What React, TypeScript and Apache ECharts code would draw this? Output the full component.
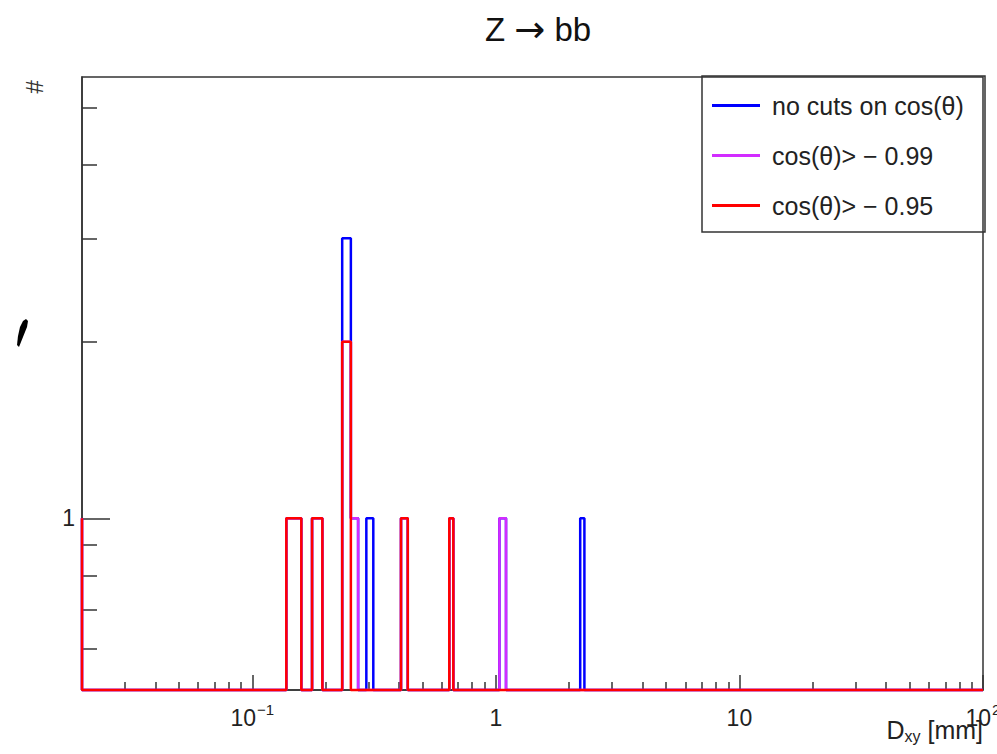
import React, { useEffect, useRef } from 'react';
import * as echarts from 'echarts';

const FONT = '"Liberation Sans", Arial, Helvetica, sans-serif';

const X_MIN = 0.02;
const X_MAX = 100;
const Y_MIN = 0.51;
const Y_MAX = 5.65;

const SERIES_NAMES = ['no cuts on cos(θ)', 'cos(θ)> − 0.99', 'cos(θ)> − 0.95'];
const SERIES_COLORS = ['#0000ff', '#d22cff', '#ff0000'];

// bin edges (mm)
const BIN_LO = [0.138, 0.176, 0.234, 0.254, 0.294, 0.408, 0.644, 1.034, 2.22];
const BIN_HI = [0.159, 0.194, 0.254, 0.272, 0.314, 0.435, 0.669, 1.101, 2.31];
// counts per bin
const COUNTS_NOCUT = [1, 1, 3, 1, 1, 1, 1, 1, 1];
const COUNTS_099 = [1, 1, 2, 1, 0, 1, 1, 1, 0];
const COUNTS_095 = [1, 1, 2, 0, 0, 1, 1, 0, 0];
// content below the x range (drawn clipped at left frame edge)
const UNDERFLOW = [1, 1, 1];

const X_MAJOR = [0.1, 1, 10, 100];
const X_MINOR = [0.03, 0.04, 0.05, 0.06, 0.07, 0.08, 0.09, 0.2, 0.3, 0.4, 0.5, 0.6, 0.7, 0.8, 0.9, 2, 3, 4, 5, 6, 7, 8, 9, 20, 30, 40, 50, 60, 70, 80, 90];
const Y_MAJOR = [1];
const Y_MINOR = [0.6, 0.7, 0.8, 0.9, 2, 3, 4, 5];

function outline(counts: number[], underflow: number): number[][] {
  const segs: number[][] = [];
  let cur = X_MIN;
  if (underflow > 0) segs.push([X_MIN, X_MIN, underflow]);
  counts.forEach((c, i) => {
    if (c <= 0) return;
    const lo = BIN_LO[i];
    const hi = BIN_HI[i];
    if (lo > cur) segs.push([cur, lo, Y_MIN]);
    segs.push([lo, hi, c]);
    cur = hi;
  });
  segs.push([cur, X_MAX, Y_MIN]);
  const pts: number[][] = [];
  segs.forEach(([a, b, v]) => {
    pts.push([a, v]);
    pts.push([b, v]);
  });
  return pts;
}

function xLabel(v: number): string {
  const e = Math.round(Math.log10(v));
  if (e === 0) return '{b|1}';
  if (e === 1) return '{b|10}';
  return '{b|10}{s|' + (e < 0 ? '−' + -e : String(e)) + '}';
}

export default function App() {
  const ref = useRef<HTMLDivElement>(null);
  useEffect(() => {
    if (!ref.current) return;
    const chart = echarts.init(ref.current, null, { renderer: 'svg' });
    const allCounts = [COUNTS_NOCUT, COUNTS_099, COUNTS_095];
    const axisColor = '#333';
    chart.setOption({
      animation: false,
      backgroundColor: '#fff',
      title: {
        text: '{t|Z }{a|→}{t| bb}',
        left: 533,
        top: 6,
        textAlign: 'center',
        textStyle: {
          fontWeight: 'normal',
          rich: {
            t: { fontFamily: FONT, fontSize: 33, fontWeight: 'normal', color: '#111', lineHeight: 36 },
            a: { fontFamily: 'DejaVu Sans', fontSize: 37, fontWeight: 'normal', color: '#111', lineHeight: 36 },
          },
        },
      },
      grid: {
        left: 82,
        right: 14,
        top: 77,
        bottom: 64,
        show: true,
        borderColor: axisColor,
        borderWidth: 1.5,
        backgroundColor: 'transparent',
        containLabel: false,
        outerBoundsMode: 'none',
      },
      legend: {
        orient: 'vertical',
        left: 712,
        top: 93,
        padding: 0,
        itemWidth: 48,
        itemHeight: 3,
        itemGap: 25,
        icon: 'rect',
        selectedMode: false,
        data: SERIES_NAMES,
        textStyle: { fontFamily: FONT, fontSize: 25, color: '#222', padding: [0, 0, 0, 7] },
      },
      xAxis: [
        {
          type: 'log',
          logBase: 10,
          min: X_MIN,
          max: X_MAX,
          position: 'bottom',
          axisLine: { show: true, lineStyle: { color: axisColor, width: 1.5 } },
          axisTick: { show: true, inside: true, length: 15, customValues: X_MAJOR, lineStyle: { color: axisColor, width: 1.5 } },
          splitLine: { show: false },
          axisLabel: {
            show: true,
            customValues: X_MAJOR,
            margin: 12,
            formatter: xLabel,
            hideOverlap: false,
            rich: {
              b: { fontFamily: FONT, fontSize: 23, color: '#222', lineHeight: 31 },
              s: { fontFamily: FONT, fontSize: 15, color: '#222', lineHeight: 15, verticalAlign: 'top', padding: [0, 0, 16, 1] },
            },
          },
          name: '{m|D}{u|xy}{m| [mm]}',
          nameLocation: 'end',
          nameGap: 0,
          nameMoveOverlap: false,
          nameTextStyle: {
            align: 'right',
            verticalAlign: 'top',
            padding: [26, 0, 0, 0],
            rich: {
              m: { fontFamily: FONT, fontSize: 25, color: '#222', lineHeight: 28 },
              u: { fontFamily: FONT, fontSize: 16, color: '#222', lineHeight: 16, verticalAlign: 'bottom', padding: [22, 0, 0, 0] },
            },
          },
        },
        {
          type: 'log',
          logBase: 10,
          min: X_MIN,
          max: X_MAX,
          position: 'bottom',
          axisLine: { show: false },
          axisTick: { show: true, inside: true, length: 8, customValues: X_MINOR, lineStyle: { color: axisColor, width: 1.5 } },
          axisLabel: { show: false },
          splitLine: { show: false },
        },
      ],
      yAxis: [
        {
          type: 'log',
          logBase: 10,
          min: Y_MIN,
          max: Y_MAX,
          position: 'left',
          axisLine: { show: true, lineStyle: { color: axisColor, width: 1.5 } },
          axisTick: { show: true, inside: true, length: 28, customValues: Y_MAJOR, lineStyle: { color: axisColor, width: 1.5 } },
          axisLabel: {
            show: true,
            customValues: Y_MAJOR,
            margin: 7,
            fontFamily: FONT,
            fontSize: 23,
            color: '#222',
            formatter: (v: number) => String(Math.round(v)),
          },
          splitLine: { show: false },
        },
        {
          type: 'log',
          logBase: 10,
          min: Y_MIN,
          max: Y_MAX,
          position: 'left',
          axisLine: { show: false },
          axisTick: { show: true, inside: true, length: 15, customValues: Y_MINOR, lineStyle: { color: axisColor, width: 1.5 } },
          axisLabel: { show: false },
          splitLine: { show: false },
        },
      ],
      graphic: [
        {
          type: 'rect',
          shape: { x: 702, y: 76, width: 283, height: 156 },
          style: { fill: 'transparent', stroke: axisColor, lineWidth: 1.5 },
          z: 100,
        },
        {
          type: 'text',
          x: 34,
          y: 87,
          rotation: -Math.PI / 2,
          style: { text: '#', fontFamily: FONT, fontSize: 24, fill: '#333', align: 'center', verticalAlign: 'middle' },
        },
        {
          type: 'polygon',
          shape: { points: [[20, 327], [23, 321], [26, 319], [28, 321], [27, 327], [19, 347], [17, 345], [18, 336]] },
          style: { fill: '#000' },
        },
      ],
      series: SERIES_NAMES.map((name, i) => ({
        name,
        type: 'line',
        xAxisIndex: 0,
        yAxisIndex: 0,
        data: outline(allCounts[i], UNDERFLOW[i]),
        symbol: 'none',
        clip: false,
        color: SERIES_COLORS[i],
        lineStyle: { color: SERIES_COLORS[i], width: 2.5 },
        z: 3 + i,
      })),
    });
    return () => chart.dispose();
  }, []);
  return <div ref={ref} style={{ width: 997, height: 754, position: 'absolute', left: 0, top: 0 }} />;
}
